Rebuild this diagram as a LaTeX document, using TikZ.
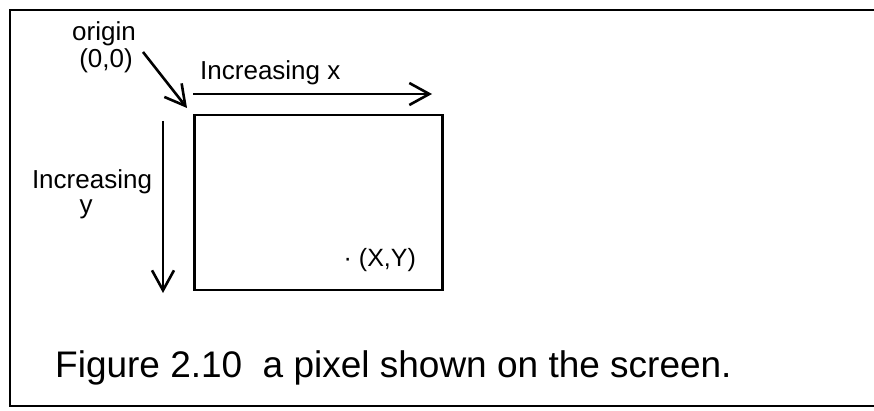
\documentclass[tikz,border=0pt]{standalone}
\usepackage{fontspec}
\setmainfont{Liberation Sans}
\usetikzlibrary{arrows.meta, positioning}

\begin{document}
\begin{tikzpicture}[
  x=1pt, y=-1pt,
  lbl/.style={inner sep=0pt, font=\fontsize{26}{26}\selectfont},
  screenbox/.style={
    rectangle,
    draw,
    line width=2.6pt,
    minimum width=248pt,
    minimum height=175pt
  },
  arrow/.style={-{Straight Barb[length=20pt, width=22pt, line width=2.6pt]}, line width=2.6pt},
  frame/.style={line width=2.8pt}
]
\useasboundingbox (0,0) rectangle (874,411);

% Frame (open on the right)
\draw[frame] (874,10) -- (10,10) -- (10,406) -- (874,406);

% Screen
\node[screenbox] (screen) at (318.5,202.5) {};

% Labels
\node[lbl, anchor=base] (origin) at (104,41) {origin};
\node[lbl, anchor=base] (origxy) at (106,68) {(0,0)};
\node[lbl, anchor=base west] (incx) at (200,80) {Increasing x};
\node[lbl, anchor=base] (incy) at (92,189) {Increasing};
\node[lbl, anchor=base] (ylbl) at (86,214) {y};
\node[lbl, anchor=base west, font=\fontsize{25}{25}\selectfont] (pixel) at (343.5,267) {· (X,Y)};

% Caption
\node[inner sep=0pt, anchor=base west, font=\fontsize{37}{37}\selectfont] (caption) at (55,377)
  {Figure 2.10\hspace{0.55em}a pixel shown on the screen.};

% Arrow ends
\coordinate (o-start) at (143,52);
\coordinate (o-end) at (187,108);
\coordinate (x-start) at (193,94);
\coordinate (x-end) at (432,94);
\coordinate (y-start) at (163,121);
\coordinate (y-end) at (163,293);

% Arrows
\draw[arrow] (o-start) -- (o-end);
\draw[arrow] (x-start) -- (x-end);
\draw[arrow] (y-start) -- (y-end);

\end{tikzpicture}
\end{document}
